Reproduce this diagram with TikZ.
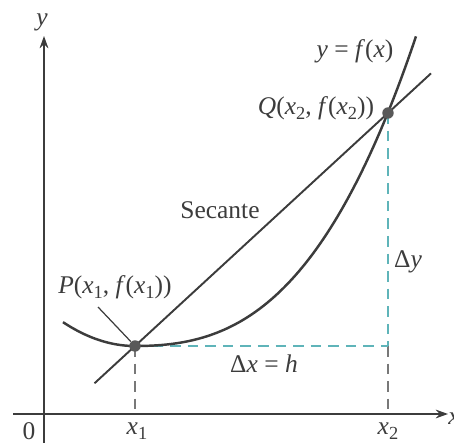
\documentclass[tikz,border=0pt]{standalone}
\usepackage{fontspec}
\setmainfont{Liberation Serif}
\usetikzlibrary{calc,arrows.meta}
\definecolor{ink}{RGB}{60,60,60}
\definecolor{dcyan}{RGB}{95,180,185}
\definecolor{dgray}{RGB}{120,120,120}
\newcommand{\iv}[1]{\textit{#1}}
\newcommand{\sbs}[1]{\raisebox{-0.45ex}{\fontsize{10.5}{12}\selectfont #1}}
\tikzset{
  lbl/.style={text=ink, inner sep=0pt, font=\fontsize{14.5}{17}\selectfont},
  axis/.style={draw=ink, line width=0.9pt, -{Stealth[length=7pt,width=5pt]}},
  curve/.style={draw=ink, line width=1.4pt},
  secline/.style={draw=ink, line width=1.1pt},
  dcy/.style={draw=dcyan, line width=0.9pt, dash pattern=on 6pt off 4pt},
  dgr/.style={draw=dgray, line width=0.8pt, dash pattern=on 6pt off 4pt},
  dot/.style={circle, fill=ink!85, minimum size=6.5pt, inner sep=0pt},
}
\begin{document}
\begin{tikzpicture}[x=0.02cm, y=-0.02cm]
\useasboundingbox (0,0) rectangle (454,443);
% axes
\coordinate (Y0) at (44,443);
\coordinate (Y1) at (44,36);
\coordinate (X0) at (13,414);
\coordinate (X1) at (448,414);
\draw[axis] (Y0) -- (Y1);
\draw[axis] (X0) -- (X1);
% key points
\coordinate (P) at (135,346);
\coordinate (Q) at (388,113);
\coordinate (C) at (388,346);
\coordinate (A1) at (135,414);
\coordinate (A2) at (388,414);
% dashed guides
\draw[dgr] (P) -- (A1);
\draw[dgr] (C) -- (A2);
\draw[dcy] (P) -- (C);
\draw[dcy] (Q) -- (C);
% curve y = f(x)
\draw[curve] plot[domain=-0.72:0, samples=30] ({135+100*\x}, {346-46*\x*\x})
  -- plot[domain=0:2.81, samples=80] ({135+100*\x}, {346-(11.82*\x*\x+9.75*\x*\x*\x)});
% secant
\coordinate (S1) at ($(P)!-0.16!(Q)$);
\coordinate (S2) at ($(P)!1.17!(Q)$);
\draw[secline] (S1) -- (S2);
% dots
\node[dot] (Pd) at (P) {};
\node[dot] (Qd) at (Q) {};
% labels
\node[lbl] (ylab) at (42,22) {\iv{y}};
\node[lbl, anchor=west] (xlab) at (448,419) {\iv{x}};
\node[lbl] (zero) at (29,431) {0};
\node[lbl] (x1) at (137,431) {\iv{x}\sbs{1}};
\node[lbl] (x2) at (388,431) {\iv{x}\sbs{2}};
\node[lbl] (sec) at (220,210) {Secante};
\node[lbl] (Plab) at (115,287) {\iv{P}(\iv{x}\sbs{1}, \iv{f}(\iv{x}\sbs{1}))};
\node[lbl] (Qlab) at (316,108) {\iv{Q}(\iv{x}\sbs{2}, \iv{f}(\iv{x}\sbs{2}))};
\node[lbl] (flab) at (355,51) {\iv{y} = \iv{f}(\iv{x})};
\node[lbl] (dy) at (408,262) {Δ\iv{y}};
\node[lbl] (dx) at (264,364) {Δ\iv{x} = \iv{h}};
\coordinate (L1) at (98,307);
\draw[draw=ink, line width=0.7pt] (L1) -- (Pd);
\end{tikzpicture}
\end{document}
